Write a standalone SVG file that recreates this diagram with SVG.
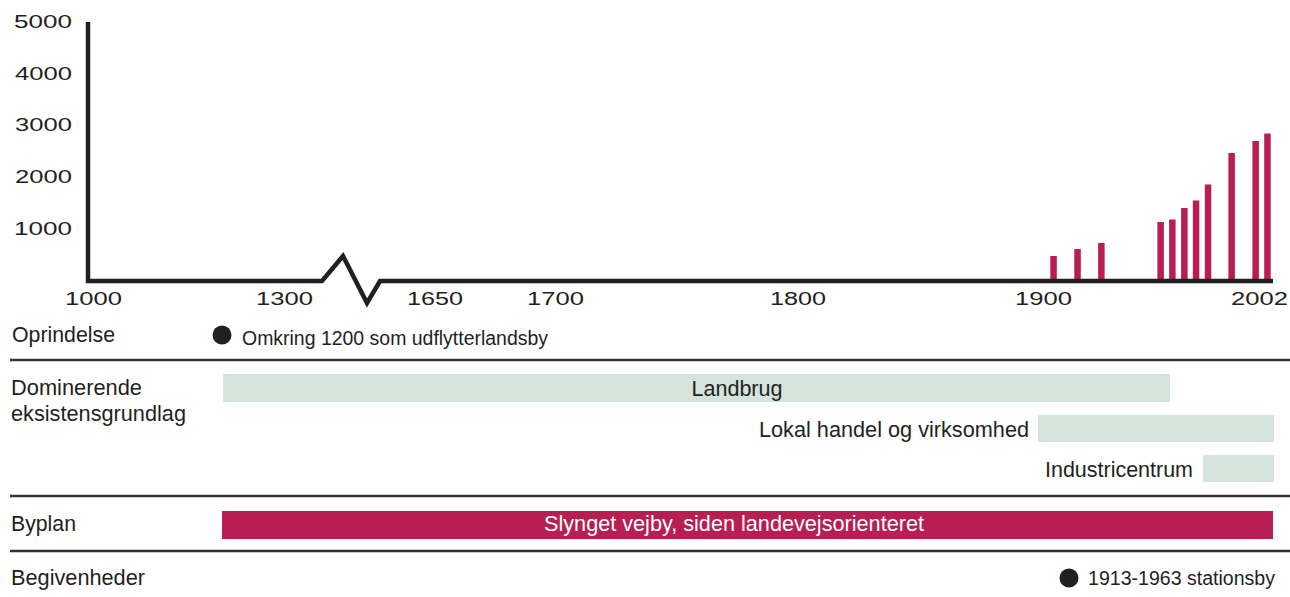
<svg xmlns="http://www.w3.org/2000/svg" width="1290" height="597" viewBox="0 0 1290 597">
<style>
text{font-family:"Liberation Sans",Arial,sans-serif;fill:#231f20}
.num{font-size:18px}
.lab{font-size:22px}
.sm{font-size:19.5px}
.grn{fill:#d4e4dd}
.red{fill:#b81e52}
.sep{stroke:#333;stroke-width:2.5}
</style>
<rect width="1290" height="597" fill="#fff"/>
<g id="y-axis-labels" class="num" text-anchor="end">
<text x="72" y="28" textLength="58" lengthAdjust="spacingAndGlyphs">5000</text>
<text x="72" y="80" textLength="57" lengthAdjust="spacingAndGlyphs">4000</text>
<text x="72" y="131" textLength="57" lengthAdjust="spacingAndGlyphs">3000</text>
<text x="72" y="183" textLength="57" lengthAdjust="spacingAndGlyphs">2000</text>
<text x="72" y="235" textLength="58" lengthAdjust="spacingAndGlyphs">1000</text>
</g>
<g id="x-axis-labels" class="num">
<text x="65" y="305" textLength="57" lengthAdjust="spacingAndGlyphs">1000</text>
<text x="256" y="305" textLength="57" lengthAdjust="spacingAndGlyphs">1300</text>
<text x="407" y="305" textLength="56" lengthAdjust="spacingAndGlyphs">1650</text>
<text x="527" y="305" textLength="57" lengthAdjust="spacingAndGlyphs">1700</text>
<text x="770" y="305" textLength="56" lengthAdjust="spacingAndGlyphs">1800</text>
<text x="1015" y="305" textLength="57" lengthAdjust="spacingAndGlyphs">1900</text>
<text x="1231" y="305" textLength="57" lengthAdjust="spacingAndGlyphs">2002</text>
</g>
<g id="bars" class="red">
<rect x="1050.3" y="256" width="6.5" height="25"/>
<rect x="1074.3" y="249" width="6.5" height="32"/>
<rect x="1098.1" y="243" width="6.5" height="38"/>
<rect x="1157.4" y="222" width="6.5" height="59"/>
<rect x="1169.1" y="219.5" width="6.5" height="61.5"/>
<rect x="1181.1" y="208" width="6.5" height="73"/>
<rect x="1192.8" y="200.5" width="6.5" height="80.5"/>
<rect x="1204.8" y="184.5" width="6.5" height="96.5"/>
<rect x="1228.4" y="153" width="6.5" height="128"/>
<rect x="1252.4" y="141" width="6.5" height="140"/>
<rect x="1264.2" y="133.5" width="6.5" height="147.5"/>
</g>
<g id="axes">
<path d="M88 22 V281 H322 L343 256 L367 303 L380 281 H1273" fill="none" stroke="#231f20" stroke-width="4.5" stroke-linejoin="miter"/>
</g>
<g id="row-oprindelse">
<text class="lab" x="12" y="342" textLength="103" lengthAdjust="spacingAndGlyphs">Oprindelse</text>
<circle cx="222" cy="335" r="9.5" fill="#231f20"/>
<text class="sm" x="242" y="345" textLength="306" lengthAdjust="spacingAndGlyphs">Omkring 1200 som udflytterlandsby</text>
</g>
<g id="separators">
<line class="sep" x1="10" y1="360" x2="1290" y2="360"/>
<line class="sep" x1="10" y1="496" x2="1290" y2="496"/>
<line class="sep" x1="10" y1="551" x2="1290" y2="551"/>
</g>
<g id="row-eksistensgrundlag">
<text class="lab" x="11" y="395" textLength="131" lengthAdjust="spacingAndGlyphs">Dominerende</text>
<text class="lab" x="11" y="421" textLength="175" lengthAdjust="spacingAndGlyphs">eksistensgrundlag</text>
<rect class="grn" x="223" y="374" width="947" height="28"/>
<text class="lab" x="737" y="396" text-anchor="middle" textLength="91" lengthAdjust="spacingAndGlyphs">Landbrug</text>
<rect class="grn" x="1038" y="415" width="236" height="27"/>
<text class="lab" x="1029" y="437" text-anchor="end" textLength="270" lengthAdjust="spacingAndGlyphs">Lokal handel og virksomhed</text>
<rect class="grn" x="1203" y="455" width="71" height="27"/>
<text class="lab" x="1193" y="477" text-anchor="end" textLength="148" lengthAdjust="spacingAndGlyphs">Industricentrum</text>
</g>
<g id="row-byplan">
<text class="lab" x="11" y="531" textLength="65" lengthAdjust="spacingAndGlyphs">Byplan</text>
<rect class="red" x="222" y="511" width="1051" height="28"/>
<text class="lab" x="734" y="531" text-anchor="middle" style="fill:#fff" textLength="380" lengthAdjust="spacingAndGlyphs">Slynget vejby, siden landevejsorienteret</text>
</g>
<g id="row-begivenheder">
<text class="lab" x="11" y="585" textLength="134" lengthAdjust="spacingAndGlyphs">Begivenheder</text>
<circle cx="1069" cy="578" r="9.5" fill="#231f20"/>
<text class="sm" x="1088" y="585" textLength="187" lengthAdjust="spacingAndGlyphs">1913-1963 stationsby</text>
</g>
</svg>
